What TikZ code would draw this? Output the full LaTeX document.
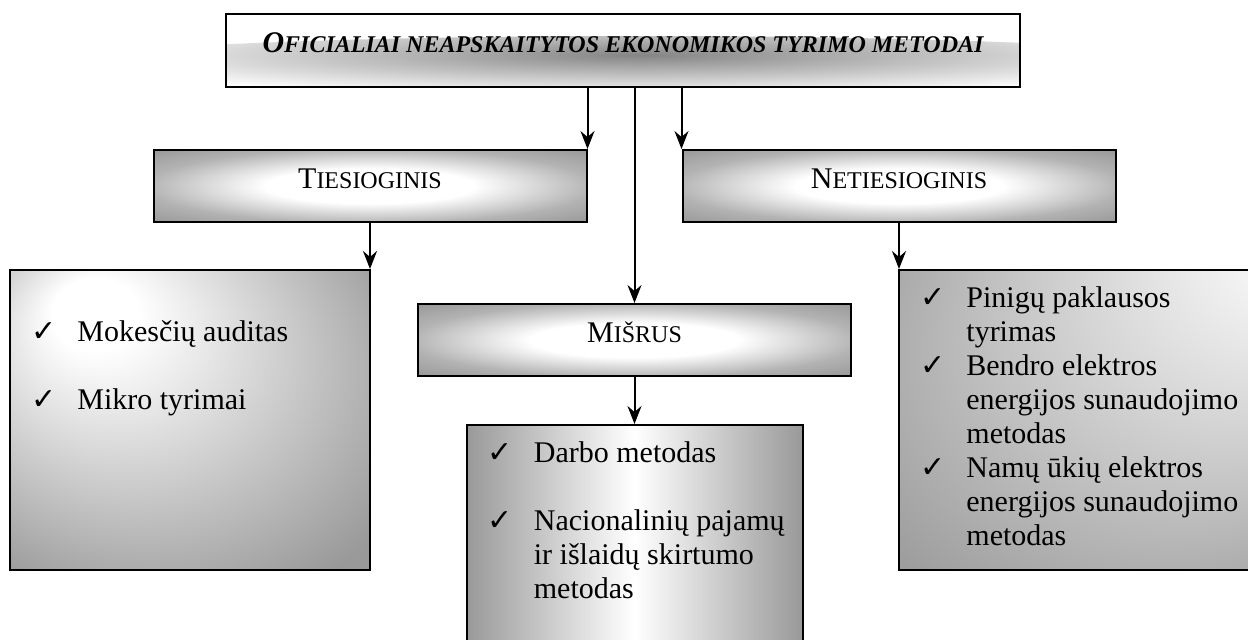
\documentclass[tikz,border=0pt]{standalone}
\usepackage{fontspec}
\setmainfont{Liberation Serif}
\newfontfamily\chkfont{DejaVu Sans}
\usetikzlibrary{arrows.meta,positioning,shadings}

\pgfdeclareradialshading{headshade}{\pgfpoint{0bp}{0bp}}{color(0bp)=(white); color(12bp)=(white); color(26bp)=(black!30); color(38bp)=(black!43); color(50bp)=(black!43)}
\pgfdeclareradialshading{leftshade}{\pgfpoint{-15bp}{20bp}}{color(0bp)=(white); color(6bp)=(white); color(38bp)=(black!40); color(50bp)=(black!40)}
\pgfdeclareradialshading{rightshade}{\pgfpoint{40bp}{38bp}}{color(0bp)=(white); color(6bp)=(white); color(46bp)=(black!42); color(50bp)=(black!42)}

\newcommand{\capsc}[2]{{\fontsize{15}{18}\selectfont #1}{\fontsize{12}{14}\selectfont #2}}
\newcommand{\chk}{\makebox[23pt][l]{\chkfont\fontsize{15}{17}\selectfont ✓}}

\tikzset{
  boxline/.style={draw,line width=1pt,inner sep=0pt},
  headbox/.style={boxline,shade,shading=headshade,minimum width=216.5pt,minimum height=36pt,text height=10pt,text depth=8pt},
  listbox/.style={inner sep=0pt,font=\fontsize{15}{17}\selectfont,anchor=north west},
  link/.style={-{Stealth[length=9pt,width=7pt,inset=3pt]},line width=1pt}
}

\begin{document}
\begin{tikzpicture}[x=1pt,y=-1pt]
\path[use as bounding box,clip] (0,0) rectangle (624,319.5);

% title
\node[boxline,fill=white,minimum width=397pt,minimum height=36.5pt,text height=10pt,text depth=8pt,font=\bfseries\itshape,
  path picture={\shade[inner color=black!48,outer color=white]
    ([xshift=8.5pt,yshift=-7.75pt]path picture bounding box.center) ellipse [x radius=300pt,y radius=15pt];}]
  (top) at (311.5,25.25) {\capsc{O}{FICIALIAI NEAPSKAITYTOS EKONOMIKOS TYRIMO METODAI}};

% method kinds
\node[headbox] (tie) at (185,93) {\capsc{T}{IESIOGINIS}};
\node[headbox] (net) at (449.5,93) {\capsc{N}{ETIESIOGINIS}};
\node[headbox] (mis) at (317.25,170) {\capsc{M}{IŠRUS}};

% lists
\node[boxline,shade,shading=leftshade,minimum width=180pt,minimum height=150pt] (tiebox) at (95,210) {};
\node[boxline,shade,shading=rightshade,minimum width=180pt,minimum height=150pt] (netbox) at (539.5,210) {};
\node[boxline,shade,left color=black!40,right color=black!40,middle color=white,minimum width=168pt,minimum height=114pt] (misbox) at (317.25,269.5) {};

\node[listbox,below right=7pt and 11pt of tiebox.north west] (tietxt) {%
  \begin{tabular}{@{}l@{}l@{}}
   & \\
  \chk & Mokesčių auditas\\
   & \\
  \chk & Mikro tyrimai
  \end{tabular}};
\node[listbox,below right=7pt and 11pt of netbox.north west] (nettxt) {%
  \begin{tabular}{@{}l@{}l@{}}
  \chk & Pinigų paklausos\\
   & tyrimas\\
  \chk & Bendro elektros\\
   & energijos sunaudojimo\\
   & metodas\\
  \chk & Namų ūkių elektros\\
   & energijos sunaudojimo\\
   & metodas
  \end{tabular}};
\node[listbox,below right=7pt and 11pt of misbox.north west] (mistxt) {%
  \begin{tabular}{@{}l@{}l@{}}
  \chk & Darbo metodas\\
   & \\
  \chk & Nacionalinių pajamų\\
   & ir išlaidų skirtumo\\
   & metodas
  \end{tabular}};

% arrows
\draw[link] (top.south -| tie.north east) -- (tie.north east);
\draw[link] (top.south -| net.north west) -- (net.north west);
\draw[link] (top.south -| mis.north) -- (mis.north);
\draw[link] (tie.south) -- (tie.south |- tiebox.north);
\draw[link] (net.south) -- (net.south |- netbox.north);
\draw[link] (mis.south) -- (misbox.north);
\end{tikzpicture}
\end{document}
